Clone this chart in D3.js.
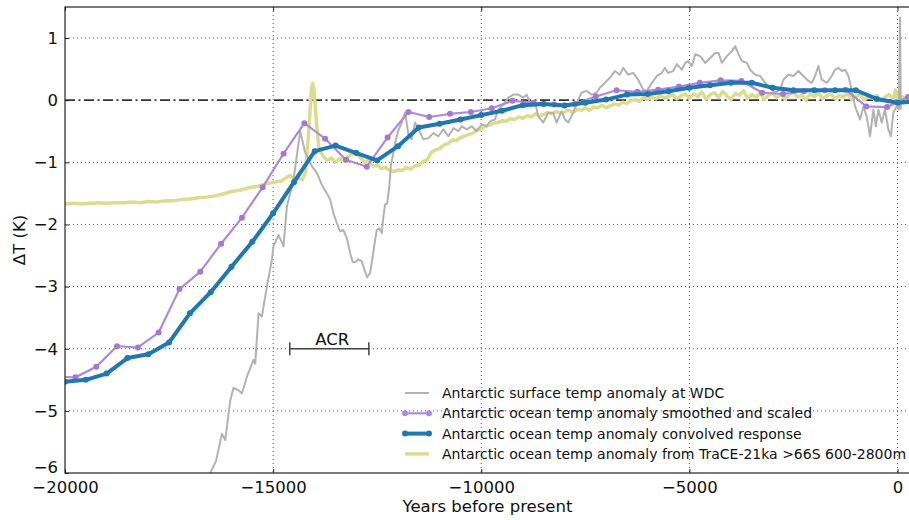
<!DOCTYPE html>
<html>
<head>
<meta charset="utf-8">
<script src="https://cdn.jsdelivr.net/npm/d3@7"></script>
<style>
  body { margin: 0; background: #fff; }
  svg { display: block; font-family: "DejaVu Sans", sans-serif; }
</style>
</head>
<body>
<div id="chart"></div>
<script>
// Antarctic ocean temp anomaly, smoothed and scaled (purple)
const smoothYears = [-20250, -19750, -19250, -18750, -18250, -17750, -17250, -16750, -16250, -15750,
  -15250, -14750, -14250, -13750, -13250, -12750, -12250, -11750, -11250, -10750,
  -10250, -9750, -9250, -8750, -8250, -7750, -7250, -6750, -6250, -5750,
  -5250, -4750, -4250, -3750, -3250, -2750, -2250, -1750, -1250, -750, -250, 250];
const smoothTemp = [-4.45, -4.46, -4.29, -3.96, -3.98, -3.74, -3.04, -2.76, -2.31, -1.89,
  -1.40, -0.86, -0.37, -0.62, -0.96, -1.07, -0.60, -0.19, -0.27, -0.22,
  -0.19, -0.13, -0.01, -0.04, -0.07, -0.06, 0.06, 0.16, 0.135, 0.17,
  0.22, 0.28, 0.32, 0.31, 0.12, 0.10, 0.145, 0.16, 0.17, -0.10, -0.11, 0.05];

// Antarctic ocean temp anomaly, convolved response (blue)
const convYears = [-20000, -19500, -19000, -18500, -18000, -17500, -17000, -16500, -16000, -15500,
  -15000, -14500, -14000, -13500, -13000, -12500, -12000, -11500, -11000, -10500,
  -10000, -9500, -9000, -8500, -8000, -7500, -7000, -6500, -6000, -5500,
  -5000, -4500, -4000, -3500, -3000, -2500, -2000, -1500, -1000, -500, 0, 500];
const convTemp = [-4.53, -4.50, -4.40, -4.15, -4.09, -3.90, -3.43, -3.09, -2.68, -2.28,
  -1.82, -1.32, -0.82, -0.73, -0.85, -0.97, -0.74, -0.44, -0.38, -0.31,
  -0.24, -0.17, -0.08, -0.06, -0.085, -0.04, 0.01, 0.09, 0.10, 0.145,
  0.20, 0.24, 0.28, 0.28, 0.20, 0.16, 0.16, 0.16, 0.16, 0.02, -0.04, -0.02];

// Antarctic surface temp anomaly at WDC (grey), [year, K]
const wdcSeries = [[-16630,-6.4],[-16510,-6.0],[-16370,-5.8],[-16230,-5.37],[-16150,-5.47],[-16030,-4.83],
  [-15950,-4.63],[-15830,-4.67],[-15750,-4.72],[-15630,-4.45],[-15470,-4.18],[-15430,-4.24],[-15350,-3.43],
  [-15270,-3.48],[-15150,-3.0],[-15030,-2.57],[-14990,-2.35],[-14870,-2.17],[-14750,-2.35],[-14670,-1.71],
  [-14510,-1.28],[-14350,-0.5],[-14230,-0.84],[-14070,-1.06],[-13950,-1.17],[-13830,-1.36],[-13710,-1.5],
  [-13630,-1.6],[-13550,-1.82],[-13470,-1.98],[-13390,-2.11],[-13310,-2.09],[-13230,-2.22],[-13150,-2.46],
  [-13090,-2.6],[-13030,-2.61],[-12950,-2.56],[-12870,-2.59],[-12790,-2.76],[-12740,-2.85],[-12670,-2.78],
  [-12610,-2.52],[-12550,-2.25],[-12510,-2.09],[-12450,-2.06],[-12390,-2.14],[-12350,-1.87],[-12310,-1.68],
  [-12260,-1.66],[-12210,-1.39],[-12170,-1.05],[-12070,-0.69],[-12000,-0.5],[-11910,-0.36],[-11830,-0.2],
  [-11750,-0.55],[-11670,-0.63],[-11590,-0.36],[-11510,-0.47],[-11390,-0.63],[-11270,-0.61],[-11150,-0.53],
  [-11030,-0.58],[-10910,-0.47],[-10790,-0.58],[-10670,-0.45],[-10550,-0.5],[-10470,-0.42],[-10350,-0.47],
  [-10230,-0.42],[-10110,-0.5],[-9990,-0.39],[-9870,-0.42],[-9790,-0.34],[-9670,-0.31],[-9590,-0.15],
  [-9470,-0.07],[-9350,0.04],[-9230,0.09],[-9110,0.09],[-8990,0.04],[-8910,0.09],[-8790,-0.1],[-8710,-0.02],
  [-8630,-0.26],[-8510,-0.36],[-8390,-0.2],[-8270,-0.2],[-8190,-0.36],[-8070,-0.18],[-7990,-0.31],[-7910,-0.36],
  [-7790,-0.2],[-7670,0.01],[-7590,0.12],[-7470,0.15],[-7350,0.09],[-7230,0.12],[-7150,0.2],[-7030,0.28],
  [-6910,0.36],[-6790,0.47],[-6670,0.41],[-6590,0.52],[-6470,0.41],[-6350,0.44],[-6230,0.33],[-6110,0.17],
  [-6020,0.15],[-5900,0.28],[-5780,0.39],[-5660,0.44],[-5590,0.52],[-5510,0.44],[-5390,0.47],[-5300,0.58],
  [-5180,0.49],[-5100,0.6],[-5030,0.63],[-4940,0.55],[-4860,0.74],[-4740,0.71],[-4620,0.6],[-4500,0.68],
  [-4380,0.76],[-4300,0.76],[-4220,0.6],[-4100,0.71],[-3980,0.79],[-3900,0.87],[-3820,0.74],[-3740,0.63],
  [-3620,0.6],[-3540,0.49],[-3420,0.41],[-3300,0.39],[-3180,0.28],[-3060,0.2],[-2940,0.12],[-2820,0.17],
  [-2740,0.33],[-2620,0.41],[-2500,0.39],[-2380,0.47],[-2260,0.39],[-2140,0.31],[-2060,0.28],[-1980,0.39],
  [-1900,0.55],[-1820,0.33],[-1700,0.28],[-1580,0.39],[-1500,0.49],[-1420,0.52],[-1340,0.47],[-1260,0.49],
  [-1180,0.39],[-1100,0.17],[-1020,-0.1],[-900,-0.31],[-820,-0.1],[-740,-0.26],[-660,-0.58],[-580,-0.15],
  [-520,-0.42],[-460,-0.15],[-380,-0.36],[-300,-0.15],[-220,-0.47],[-160,-0.58],[-100,-0.2],[-20,-0.1],
  [30,-0.15],[60,1.33],[80,-0.15]];

// TraCE-21ka >66S 600-2800m (yellow), [year, K]
const traceSeries = [[-20000,-1.67],[-19800,-1.66],[-19600,-1.67],[-19400,-1.66],[-19200,-1.65],[-19000,-1.66],
  [-18800,-1.65],[-18600,-1.65],[-18400,-1.64],[-18200,-1.65],[-18000,-1.63],[-17800,-1.64],[-17600,-1.62],
  [-17400,-1.62],[-17200,-1.60],[-17000,-1.59],[-16800,-1.57],[-16600,-1.56],[-16400,-1.54],[-16200,-1.51],
  [-16000,-1.47],[-15800,-1.45],[-15600,-1.41],[-15400,-1.39],[-15200,-1.35],[-15000,-1.32],[-14800,-1.30],
  [-14600,-1.21],[-14500,-1.27],[-14400,-1.25],[-14300,-1.28],[-14220,-1.15],[-14150,-0.55],[-14080,0.18],
  [-14050,0.27],[-14020,0.18],[-13960,-0.35],[-13900,-0.78],[-13800,-0.90],[-13700,-0.97],[-13600,-0.93],
  [-13500,-1.00],[-13400,-0.94],[-13300,-0.98],[-13200,-0.91],[-13100,-0.86],[-13000,-0.82],[-12900,-0.93],
  [-12800,-1.00],[-12700,-0.97],[-12600,-1.06],[-12500,-1.05],[-12400,-1.10],[-12300,-1.08],[-12200,-1.13],
  [-12100,-1.15],[-12000,-1.12],[-11900,-1.13],[-11800,-1.08],[-11700,-1.11],[-11600,-1.06],[-11500,-1.05],
  [-11400,-0.99],[-11300,-0.96],[-11200,-0.84],[-11100,-0.80],[-11000,-0.78],[-10900,-0.72],[-10800,-0.70],
  [-10700,-0.64],[-10600,-0.65],[-10500,-0.60],[-10400,-0.58],[-10300,-0.55],[-10200,-0.53],[-10100,-0.48],
  [-10000,-0.46],[-9900,-0.42],[-9800,-0.40],[-9700,-0.37],[-9600,-0.36],[-9500,-0.33],[-9400,-0.34],
  [-9300,-0.30],[-9200,-0.31],[-9100,-0.27],[-9000,-0.29],[-8900,-0.25],[-8800,-0.27],[-8700,-0.22],
  [-8600,-0.25],[-8500,-0.23],[-8400,-0.20],[-8300,-0.22],[-8200,-0.18],[-8100,-0.21],[-8000,-0.19],
  [-7900,-0.16],[-7800,-0.20],[-7700,-0.15],[-7600,-0.16],[-7500,-0.12],[-7400,-0.16],[-7300,-0.11],
  [-7200,-0.12],[-7100,-0.08],[-7000,-0.12],[-6900,-0.09],[-6800,-0.06],[-6700,-0.08],[-6600,-0.03],
  [-6500,-0.05],[-6400,-0.01],[-6300,0.01],[-6200,-0.02],[-6100,0.04],[-6000,0.01],[-5900,0.05],[-5800,0.02],
  [-5700,0.07],[-5600,0.03],[-5500,0.06],[-5400,0.09],[-5300,0.02],[-5200,0.07],[-5100,0.10],[-5000,0.03],
  [-4900,0.10],[-4800,0.06],[-4700,0.13],[-4600,0.02],[-4500,0.09],[-4400,0.12],[-4300,0.04],[-4200,0.14],
  [-4100,0.07],[-4000,0.01],[-3900,0.11],[-3800,0.08],[-3700,0.15],[-3600,0.03],[-3500,0.09],[-3400,0.05],
  [-3300,0.12],[-3200,0.01],[-3100,0.08],[-3000,0.11],[-2900,0.04],[-2800,0.10],[-2700,0.02],[-2600,0.09],
  [-2500,0.13],[-2400,0.05],[-2300,0.08],[-2200,0.00],[-2100,0.10],[-2000,0.06],[-1900,0.12],[-1800,0.03],
  [-1700,0.07],[-1600,0.10],[-1500,0.02],[-1400,0.08],[-1300,0.05],[-1200,0.11],[-1100,0.01],[-1000,0.06],
  [-900,0.09],[-800,0.00],[-700,0.07],[-600,0.03],[-500,0.08],[-400,-0.01],[-300,0.05],[-200,0.09],
  [-100,0.02],[-50,0.17],[0,0.03],[100,0.06],[200,0.02],[300,0.05]];

const xTicks = [-20000, -15000, -10000, -5000, 0];
const yTicks = [-6, -5, -4, -3, -2, -1, 0, 1];
const acrSpan = [-14600, -12700]; // Antarctic Cold Reversal
const acrLevel = -4;
const legendLabels = [
  "Antarctic surface temp anomaly at WDC",
  "Antarctic ocean temp anomaly smoothed and scaled",
  "Antarctic ocean temp anomaly convolved response",
  "Antarctic ocean temp anomaly from TraCE-21ka >66S 600-2800m"
];

const width = 909, height = 520;
const margin = { left: 65, right: 910, top: 7, bottom: 473 };

const svg = d3.select("#chart").append("svg")
  .attr("width", width)
  .attr("height", height);

const x = d3.scaleLinear().domain([-20000, 300]).range([margin.left, margin.right]);
const y = d3.scaleLinear().domain([-6, 1.5]).range([margin.bottom, margin.top]);

svg.append("defs").append("clipPath").attr("id", "plot-clip")
  .append("rect")
  .attr("x", margin.left).attr("y", margin.top)
  .attr("width", margin.right - margin.left).attr("height", margin.bottom - margin.top);

// Gitter (gepunktet)
const grid = svg.append("g").attr("stroke", "#000").attr("stroke-width", 1)
  .attr("stroke-dasharray", "1,3").attr("opacity", 0.65);
grid.selectAll("line.v").data(xTicks.filter(d => d > -20000)).enter().append("line")
  .attr("x1", d => x(d)).attr("x2", d => x(d))
  .attr("y1", margin.top).attr("y2", margin.bottom);
grid.selectAll("line.h").data(yTicks.filter(d => d > -6 && d !== 0)).enter().append("line")
  .attr("x1", margin.left).attr("x2", margin.right)
  .attr("y1", d => y(d)).attr("y2", d => y(d));

// Nulllinie (Strich-Punkt)
svg.append("line")
  .attr("x1", margin.left).attr("x2", margin.right)
  .attr("y1", y(0)).attr("y2", y(0))
  .attr("stroke", "#333").attr("stroke-width", 1.7)
  .attr("stroke-dasharray", "10,3.5,2,3.5");

const plot = svg.append("g").attr("clip-path", "url(#plot-clip)");
const line = d3.line().x(d => x(d[0])).y(d => y(d[1]));

const smoothData = d3.zip(smoothYears, smoothTemp);
const convData = d3.zip(convYears, convTemp);

plot.append("path").datum(traceSeries)
  .attr("d", line).attr("fill", "none")
  .attr("stroke", "#dcdc8e").attr("stroke-width", 3.5)
  .attr("stroke-linejoin", "round");

plot.append("path").datum(wdcSeries)
  .attr("d", line).attr("fill", "none")
  .attr("stroke", "#b2b2b2").attr("stroke-width", 2)
  .attr("stroke-linejoin", "round");

plot.append("path").datum(smoothData)
  .attr("d", line).attr("fill", "none")
  .attr("stroke", "#ae8bd8").attr("stroke-width", 2.2);
plot.selectAll("circle.smooth").data(smoothData).enter().append("circle")
  .attr("class", "smooth")
  .attr("cx", d => x(d[0])).attr("cy", d => y(d[1])).attr("r", 3)
  .attr("fill", "#a27ad2");

plot.append("path").datum(convData)
  .attr("d", line).attr("fill", "none")
  .attr("stroke", "#1f77b4").attr("stroke-width", 4)
  .attr("stroke-linejoin", "round");
plot.selectAll("circle.conv").data(convData).enter().append("circle")
  .attr("class", "conv")
  .attr("cx", d => x(d[0])).attr("cy", d => y(d[1])).attr("r", 3)
  .attr("fill", "#1f77b4");

// ACR-Markierung
const acr = svg.append("g").attr("stroke", "#444").attr("stroke-width", 1.5);
acr.append("line")
  .attr("x1", x(acrSpan[0])).attr("x2", x(acrSpan[1]))
  .attr("y1", y(acrLevel)).attr("y2", y(acrLevel));
acr.selectAll("line.cap").data(acrSpan).enter().append("line")
  .attr("x1", d => x(d)).attr("x2", d => x(d))
  .attr("y1", y(acrLevel) - 6.5).attr("y2", y(acrLevel) + 6.5);
svg.append("text")
  .attr("x", x(d3.mean(acrSpan)) + 3).attr("y", y(acrLevel) - 4)
  .attr("text-anchor", "middle").attr("font-size", 16.5).attr("fill", "#111")
  .text("ACR");

// Achsen (Ticks nach innen)
const xAxis = svg.append("g").attr("transform", `translate(0,${margin.bottom})`)
  .call(d3.axisBottom(x).tickValues(xTicks).tickFormat(d3.format("d"))
    .tickSizeInner(-4).tickSizeOuter(0).tickPadding(8));
const yAxis = svg.append("g").attr("transform", `translate(${margin.left},0)`)
  .call(d3.axisLeft(y).tickValues(yTicks).tickFormat(d3.format("d"))
    .tickSizeInner(-4).tickSizeOuter(0).tickPadding(7));
svg.append("g").attr("transform", `translate(0,${margin.top})`)
  .call(d3.axisTop(x).tickValues(xTicks).tickFormat("").tickSizeInner(-4).tickSizeOuter(0));

[xAxis, yAxis].forEach(g => {
  g.select(".domain").remove();
  g.selectAll("text").attr("font-size", 16.5).attr("fill", "#111")
    .attr("font-family", "DejaVu Sans, sans-serif");
});
// "−6" etwas anheben, damit es nicht mit "−20000" kollidiert
yAxis.selectAll(".tick text").filter(d => d === -6).attr("dy", "-0.05em");
svg.selectAll(".tick line").attr("stroke", "#222");
svg.selectAll(".domain").remove();

// Rahmen
svg.append("rect")
  .attr("x", margin.left).attr("y", margin.top)
  .attr("width", margin.right - margin.left).attr("height", margin.bottom - margin.top)
  .attr("fill", "none").attr("stroke", "#222").attr("stroke-width", 1.2);

// Achsenbeschriftungen
svg.append("text")
  .attr("x", (margin.left + margin.right) / 2).attr("y", 512)
  .attr("text-anchor", "middle").attr("font-size", 16.5).attr("fill", "#111")
  .text("Years before present");
svg.append("text")
  .attr("transform", `translate(25,${(margin.top + margin.bottom) / 2}) rotate(-90)`)
  .attr("text-anchor", "middle").attr("font-size", 16.5).attr("fill", "#111")
  .text("ΔT (K)");

// Legende
const legendStyles = [
  { color: "#b2b2b2", width: 2, marker: false },
  { color: "#ae8bd8", width: 2.2, marker: true },
  { color: "#1f77b4", width: 4, marker: true },
  { color: "#dcdc8e", width: 3.5, marker: false }
];
const legend = svg.append("g").attr("transform", "translate(405,393)");
legendLabels.forEach((label, i) => {
  const row = legend.append("g").attr("transform", `translate(0,${i * 20.3})`);
  const s = legendStyles[i];
  row.append("line").attr("x1", 0).attr("x2", 24)
    .attr("stroke", s.color).attr("stroke-width", s.width);
  if (s.marker) {
    row.selectAll("circle").data([0, 24]).enter().append("circle")
      .attr("cx", d => d).attr("r", 3).attr("fill", s.color);
  }
  row.append("text").attr("x", 37).attr("dy", "0.36em")
    .attr("font-size", 14).attr("fill", "#111").text(label);
});
</script>
</body>
</html>
